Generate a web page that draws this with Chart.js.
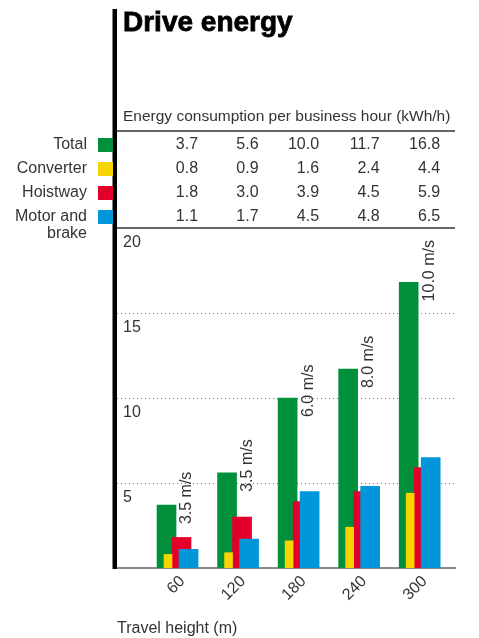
<!DOCTYPE html>
<html>
<head>
<meta charset="utf-8">
<script src="https://cdn.jsdelivr.net/npm/chart.js@4/dist/chart.umd.min.js"></script>
<style>
  html, body { margin: 0; padding: 0; background: #fff; }
  #wrap { width: 479px; height: 638px; position: relative; }
</style>
</head>
<body>
<div id="wrap"><canvas id="c"></canvas></div>
<script>
// ---- data ----
const travelHeights = [60, 120, 180, 240, 300];
const speedLabels = ['3.5 m/s', '3.5 m/s', '6.0 m/s', '8.0 m/s', '10.0 m/s'];
const totalEnergy = [3.7, 5.6, 10.0, 11.7, 16.8];
const converterEnergy = [0.8, 0.9, 1.6, 2.4, 4.4];
const hoistwayEnergy = [1.8, 3.0, 3.9, 4.5, 5.9];
const motorBrakeEnergy = [1.1, 1.7, 4.5, 4.8, 6.5];
const seriesNames = ['Total', 'Converter', 'Hoistway', ['Motor and', 'brake']];
const yTickValues = [5, 10, 15, 20];
const chartTitle = 'Drive energy';
const tableTitle = 'Energy consumption per business hour (kWh/h)';
const xAxisTitle = 'Travel height (m)';

// ---- style ----
const FONT = "'Liberation Sans', Arial, Helvetica, sans-serif";
const TEXT = '#333333';
const COLORS = ['#00903C', '#F6D400', '#E2002A', '#0096D9'];

const pts = arr => travelHeights.map((h, i) => ({ x: h, y: arr[i] }));

const decor = {
  id: 'decor',
  afterDatasetsUpdate(chart) {
    chart.data.datasets.forEach((ds, i) => {
      const meta = chart.getDatasetMeta(i);
      meta.data.forEach(el => { el.x += ds.xShift || 0; });
    });
  },
  afterDraw(chart) {
    const { ctx, chartArea: a } = chart;
    ctx.save();
    // speed labels next to the Total bars
    ctx.font = `16px ${FONT}`;
    ctx.fillStyle = TEXT;
    ctx.textAlign = 'left';
    ctx.textBaseline = 'middle';
    chart.getDatasetMeta(0).data.forEach((el, i) => {
      ctx.save();
      ctx.translate(el.x + el.width / 2 + 11, el.y + 19);
      ctx.rotate(-Math.PI / 2);
      ctx.fillText(speedLabels[i], 0, 0);
      ctx.restore();
    });

    // thick black vertical bar
    ctx.fillStyle = '#000';
    ctx.fillRect(a.left - 4.5, 9, 4.5, a.bottom + 1 - 9);

    // title
    ctx.font = `bold 28px ${FONT}`;
    ctx.fillStyle = '#000';
    ctx.textBaseline = 'alphabetic';
    ctx.textAlign = 'left';
    ctx.strokeStyle = '#000';
    ctx.lineWidth = 0.8;
    ctx.fillText(chartTitle, 123, 31);
    ctx.strokeText(chartTitle, 123, 31);

    // table header
    ctx.font = `15.5px ${FONT}`;
    ctx.fillStyle = TEXT;
    ctx.textBaseline = 'middle';
    ctx.fillText(tableTitle, 123, 117);

    // table rules
    ctx.strokeStyle = '#333';
    ctx.lineWidth = 1.5;
    ctx.beginPath();
    ctx.moveTo(a.left, 131); ctx.lineTo(a.right, 131);
    ctx.moveTo(a.left, a.top); ctx.lineTo(a.right, a.top);
    ctx.stroke();

    // legend + values
    const rowY = [145, 169, 193, 217];
    ctx.font = `16px ${FONT}`;
    chart.data.datasets.forEach((ds, i) => {
      const y = rowY[i];
      const name = seriesNames[i];
      ctx.fillStyle = TEXT;
      ctx.textAlign = 'right';
      if (Array.isArray(name)) {
        ctx.fillText(name[0], 87, y);
        ctx.fillText(name[1], 87, y + 17);
      } else {
        ctx.fillText(name, 87, y);
      }
      ctx.fillStyle = ds.backgroundColor;
      ctx.fillRect(98, y - 7, 15, 14);
    });
    // values right-aligned on the right edge of each group's last bar
    const lastMeta = chart.getDatasetMeta(3).data;
    ctx.fillStyle = TEXT;
    ctx.textAlign = 'right';
    chart.data.datasets.forEach((ds, i) => {
      ds.data.forEach((p, j) => {
        const el = lastMeta[j];
        ctx.fillText(p.y.toFixed(1), el.x + el.width / 2, rowY[i]);
      });
    });
    ctx.restore();
  }
};

new Chart(document.getElementById('c'), {
  type: 'bar',
  data: {
    datasets: [
      { label: 'Total', data: pts(totalEnergy), backgroundColor: COLORS[0], barThickness: 19, xShift: -11, order: 4 },
      { label: 'Converter', data: pts(converterEnergy), backgroundColor: COLORS[1], barThickness: 8, xShift: -9.5, order: 2 },
      { label: 'Hoistway', data: pts(hoistwayEnergy), backgroundColor: COLORS[2], barThickness: 19, xShift: 4, order: 3 },
      { label: 'Motor and brake', data: pts(motorBrakeEnergy), backgroundColor: COLORS[3], barThickness: 19, xShift: 11, order: 1 }
    ]
  },
  options: {
    responsive: true,
    maintainAspectRatio: false,
    animation: false,
    datasets: { bar: { grouped: false } },
    layout: { padding: { left: 117, right: 24, top: 228, bottom: 0 } },
    plugins: { legend: { display: false }, title: { display: false }, tooltip: { enabled: false } },
    scales: {
      x: {
        type: 'linear',
        offset: false,
        min: 0,
        max: 335,
        afterBuildTicks: s => { s.ticks = travelHeights.map(v => ({ value: v })); },
        afterFit: s => { s.height = 70; },
        grid: { display: false, drawTicks: false, offset: false },
        border: { display: true, color: '#8a8a8a', width: 2 },
        ticks: {
          autoSkip: false,
          minRotation: 45, maxRotation: 45,
          padding: 4, labelOffset: 5,
          font: { size: 16, family: FONT }, color: TEXT
        },
        title: {
          display: true, text: xAxisTitle, align: 'start',
          font: { size: 16, family: FONT }, color: TEXT,
          padding: { top: 0, bottom: 0 }
        }
      },
      y: {
        min: 0,
        max: 20,
        afterBuildTicks: s => { s.ticks = yTickValues.map(v => ({ value: v })); },
        afterFit: s => { s.width = 0; },
        grid: {
          drawTicks: false,
          lineWidth: 1,
          color: c => (c.tick && c.tick.value === 20) ? 'rgba(0,0,0,0)' : '#777'
        },
        border: { display: false, dash: [1, 3] },
        ticks: {
          mirror: true, padding: 6, labelOffset: 15,
          font: { size: 16, family: FONT }, color: TEXT
        }
      }
    }
  },
  plugins: [decor]
});
</script>
</body>
</html>
